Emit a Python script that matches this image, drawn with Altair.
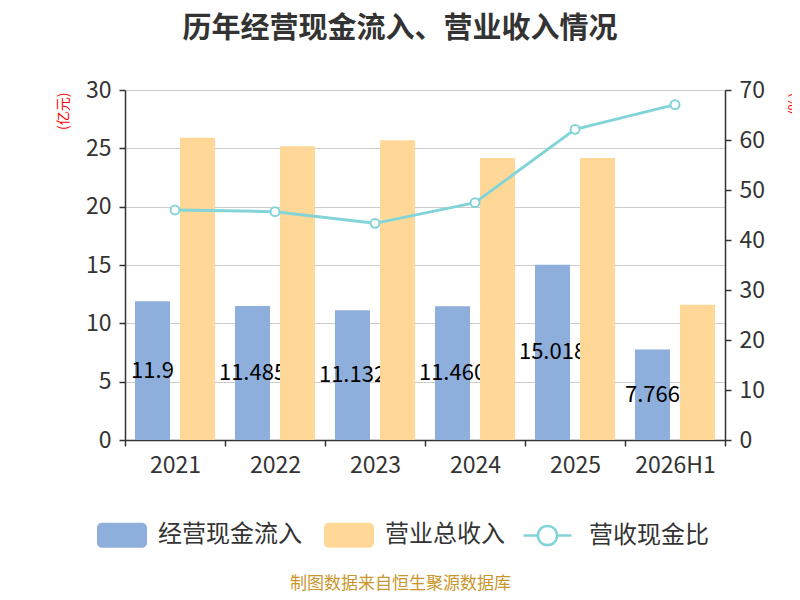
import altair as alt
import pandas as pd

years = ["2021", "2022", "2023", "2024", "2025", "2026H1"]
cash_in = [11.9, 11.485, 11.132, 11.460, 15.018, 7.766]
cash_in_labels = ["11.9", "11.485", "11.132", "11.460", "15.018", "7.766"]
revenue = [25.9, 25.17, 25.7, 24.17, 24.17, 11.6]
ratio = [46.0, 45.67, 43.33, 47.47, 62.13, 67.07]

S1 = "经营现金流入"
S2 = "营业总收入"
S3 = "营收现金比"

FONT = "Noto Sans CJK SC"
BLUE = "#8EAEDB"
ORANGE = "#FFD898"
TEAL = "#82D4D9"
AXC = "#333333"

df = pd.DataFrame({
    "year": years,
    S1: cash_in,
    S2: revenue,
    "label": cash_in_labels,
    "ratio": ratio,
    "lineseries": [S3] * len(years),
})

xenc = alt.X(
    "year:N",
    scale=alt.Scale(domain=years, paddingInner=0, paddingOuter=0),
    axis=alt.Axis(
        title="制图数据来自恒生聚源数据库",
        titleColor="#C9962B", titleFontSize=17, titleFontWeight="normal",
        titleFont=FONT, titleX=275, titleY=143, titleAlign="center",
        titleBaseline="middle", titleAngle=0,
        labelAngle=0, labelFontSize=23, labelColor=AXC, labelFont=FONT,
        labelPadding=8, tickBand="extent", tickSize=6, tickColor=AXC,
        tickWidth=1.5, domainColor=AXC, domainWidth=1.5, grid=False,
    ),
)

offset_scale = alt.Scale(domain=[S1, S2], paddingInner=0.2222, paddingOuter=0.2222)

left_axis = alt.Axis(
    values=[0, 5, 10, 15, 20, 25, 30],
    grid=True, gridColor="#cccccc", gridWidth=1.2,
    domainColor=AXC, domainWidth=1.5, tickColor=AXC, tickWidth=1.5, tickSize=6,
    labelFontSize=23, labelColor=AXC, labelFont=FONT, labelPadding=8,
    title="(亿元)", titleColor="red", titleFontSize=14, titleFontWeight="normal",
    titleFont=FONT, titleAngle=270, titleX=-62, titleY=2, titleAlign="right",
    titleBaseline="middle",
)
left_scale = alt.Scale(domain=[0, 30], nice=False)

color_scale = alt.Scale(domain=[S1, S2], range=[BLUE, ORANGE])
rect_path = ("M-0.8,-0.5 H0.8 A0.2,0.2 0 0 1 1,-0.3 V0.3 A0.2,0.2 0 0 1 0.8,0.5 "
             "H-0.8 A0.2,0.2 0 0 1 -1,0.3 V-0.3 A0.2,0.2 0 0 1 -0.8,-0.5 Z")
color_legend = alt.Legend(
    title=None, orient="none", legendX=-28, legendY=420, direction="horizontal",
    symbolType=rect_path, symbolSize=2500, symbolStrokeWidth=0,
    labelFontSize=24, labelColor=AXC, labelFont=FONT, labelOffset=11,
    columnPadding=22, padding=0,
)

base = alt.Chart(df).transform_fold([S1, S2], as_=["series", "value"])

blue_bars = base.transform_filter(alt.datum.series == S1).mark_bar().encode(
    x=xenc,
    xOffset=alt.XOffset("series:N", scale=offset_scale),
    y=alt.Y("value:Q", scale=left_scale, axis=left_axis),
    color=alt.Color("series:N", scale=color_scale, legend=color_legend),
)

labels = base.transform_filter(alt.datum.series == S1).transform_calculate(
    half="datum.value / 2"
).mark_text(fontSize=22, color="black", font=FONT, baseline="middle", align="center").encode(
    x=xenc,
    xOffset=alt.XOffset("series:N", scale=offset_scale),
    y=alt.Y("half:Q", scale=left_scale, axis=left_axis),
    text="label:N",
)

orange_bars = base.transform_filter(alt.datum.series == S2).mark_bar().encode(
    x=xenc,
    xOffset=alt.XOffset("series:N", scale=offset_scale),
    y=alt.Y("value:Q", scale=left_scale, axis=left_axis),
    color=alt.Color("series:N", scale=color_scale, legend=color_legend),
)

right_axis = alt.Axis(
    orient="right", values=[0, 10, 20, 30, 40, 50, 60, 70], grid=False,
    domainColor=AXC, domainWidth=1.5, tickColor=AXC, tickWidth=1.5, tickSize=6,
    labelFontSize=23, labelColor=AXC, labelFont=FONT, labelPadding=8,
    title="(%)", titleColor="red", titleFontSize=14, titleFontWeight="normal",
    titleFont=FONT, titleAngle=270, titleX=69, titleY=2, titleAlign="right",
    titleBaseline="middle",
)
right_scale = alt.Scale(domain=[0, 70], nice=False)

line_path = ("M-1,0 H-0.4 M0.4,0 A0.4,0.4 0 1 1 -0.4,0 A0.4,0.4 0 1 1 0.4,0 M0.4,0 H1")
stroke_legend = alt.Legend(
    title=None, orient="none", legendX=397, legendY=420, direction="horizontal",
    symbolType=line_path, symbolSize=2304, symbolStrokeWidth=2.5,
    symbolFillColor="white",
    labelFontSize=24, labelColor=AXC, labelFont=FONT, labelOffset=16, padding=0,
)

line = alt.Chart(df).mark_line(strokeWidth=3).encode(
    x=xenc,
    y=alt.Y("ratio:Q", scale=right_scale, axis=right_axis),
    stroke=alt.Stroke("lineseries:N", scale=alt.Scale(domain=[S3], range=[TEAL]),
                      legend=stroke_legend),
)

points = alt.Chart(df).mark_point(
    filled=True, fill="white", stroke=TEAL, strokeWidth=2, size=80, opacity=1
).encode(
    x=xenc,
    y=alt.Y("ratio:Q", scale=right_scale, axis=right_axis),
)

left = alt.layer(blue_bars, labels, orange_bars)
right = alt.layer(line, points)

chart = alt.layer(left, right).resolve_scale(y="independent").properties(
    width=600,
    height=350,
    autosize=alt.AutoSizeParams(type="none"),
    padding={"left": 117, "top": 82, "right": 67, "bottom": 152},
    title=alt.Title(
        "历年经营现金流入、营业收入情况",
        fontSize=29, fontWeight="bold", color="#333333", font=FONT,
        anchor="middle", frame="group", dx=-25, offset=35,
    ),
).configure_view(stroke=None).configure(background="white")

chart.save("out.html", embed_options={"renderer": "svg", "actions": False})
